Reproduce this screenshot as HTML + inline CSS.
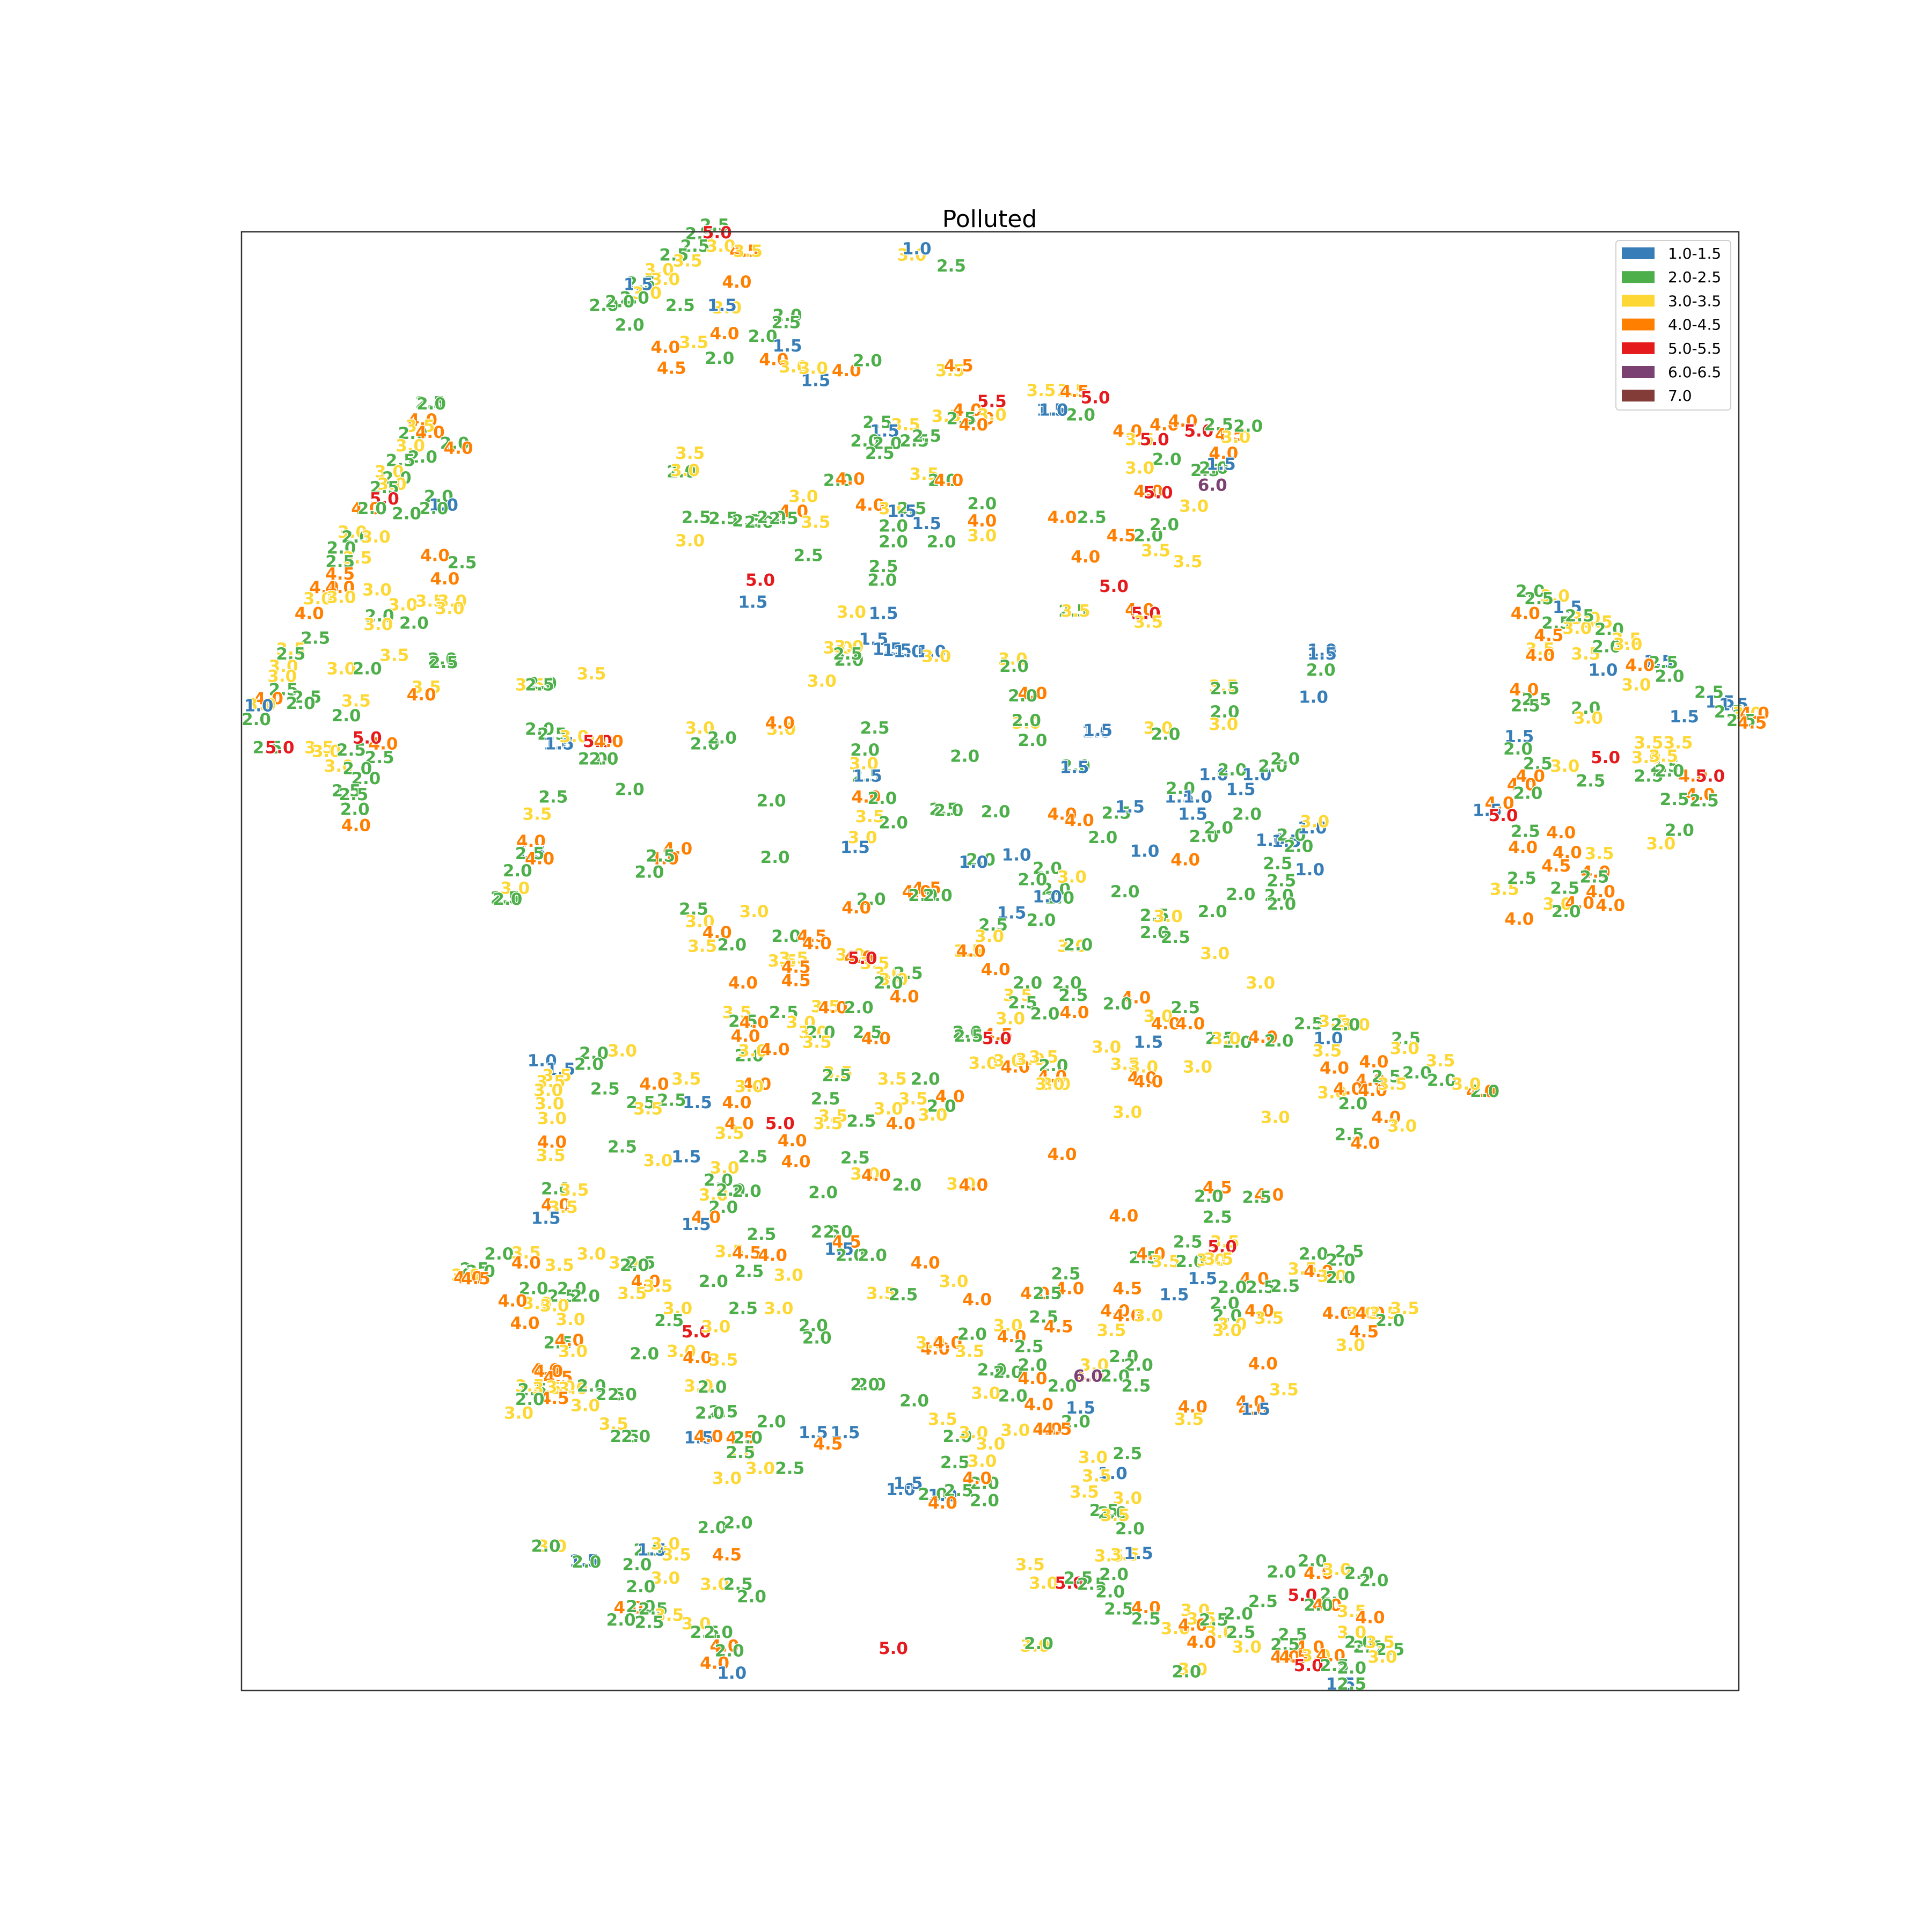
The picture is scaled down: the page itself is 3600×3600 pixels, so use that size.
<!DOCTYPE html>
<html><head><meta charset="utf-8"><style>
html,body{margin:0;padding:0;background:#fff}
svg{display:block}
.lab{font-family:"DejaVu Sans","Liberation Sans",sans-serif;font-weight:bold;font-size:31px;paint-order:stroke;stroke:#fff;stroke-width:3px;stroke-linejoin:round}
</style></head><body>
<svg id="chart" width="3600" height="3600" viewBox="0 0 3600 3600" xmlns="http://www.w3.org/2000/svg">
<rect x="0" y="0" width="3600" height="3600" fill="#fff"/>
<text x="1844" y="423" text-anchor="middle" font-family="DejaVu Sans, Liberation Sans, sans-serif" font-size="44" fill="#000">Polluted</text>
<g id="marks"></g>
<rect x="450" y="432" width="2790" height="2718" fill="none" stroke="#333" stroke-width="2.5"/>
<g id="legend"></g>
</svg>
<script>
const legendLabels=["1.0-1.5","2.0-2.5","3.0-3.5","4.0-4.5","5.0-5.5","6.0-6.5","7.0"];
const legendColors=["#377eb8","#4daf4a","#fdd835","#ff7f00","#e41a1c","#7b4173","#843c39"];
// [x, y, value] in embedding coordinates
const points=[
[580,183,"2.5"],[568,190,"2.5"],[564,200,"2.5"],[585,200,"3.0"],[604,204,"4.5"],[607,204,"3.5"],[547,207,"2.5"],[558,212,"3.5"],[535,219,"3.0"],[540,227,"3.0"],[520,230,"2.5"],[518,231,"1.5"],[525,238,"3.0"],[515,242,"2.0"],[490,248,"2.0"],[503,245,"2.0"],[598,229,"4.0"],[552,248,"2.5"],[590,250,"3.0"],[586,248,"1.5"],[639,256,"2.0"],[638,262,"2.5"],[511,264,"2.0"],[588,271,"4.0"],[563,278,"3.5"],[619,273,"2.0"],[540,282,"4.0"],[639,281,"1.5"],[584,291,"2.0"],[628,292,"4.0"],[644,298,"3.0"],[687,301,"4.0"],[704,293,"2.0"],[545,299,"4.5"],[662,309,"1.5"],[660,299,"3.0"],[582,189,"5.0"],
[740,207,"3.0"],[744,202,"1.0"],[772,216,"2.5"],[771,301,"3.5"],[778,297,"4.5"],
[805,326,"5.5"],[845,317,"3.5"],[870,317,"3.5"],[872,318,"4.5"],[889,323,"5.0"],[877,337,"2.0"],[853,333,"1.5"],[855,333,"1.0"],
[712,343,"2.5"],[735,345,"3.5"],[718,350,"1.5"],[702,358,"2.0"],[720,360,"2.0"],[742,358,"2.5"],[752,354,"2.5"],[714,368,"2.5"],[768,338,"3.5"],[785,333,"4.0"],[795,340,"4.0"],[805,337,"3.0"],[780,340,"2.5"],[790,345,"4.0"],[750,385,"3.5"],[765,390,"2.0"],[770,390,"4.0"],[680,390,"2.0"],[690,389,"4.0"],[652,403,"3.0"],[644,415,"4.0"],[706,410,"4.0"],[725,413,"3.0"],[740,413,"2.5"],[732,415,"1.5"],[752,425,"1.5"],[725,427,"2.0"],[797,409,"2.0"],[797,423,"4.0"],[797,435,"3.0"],[764,440,"2.0"],[725,440,"2.0"],
[560,368,"3.5"],[553,383,"2.0"],[556,382,"3.0"],[565,420,"2.5"],[587,421,"2.5"],[606,423,"2.5"],[616,424,"2.0"],[626,420,"2.0"],[636,421,"2.5"],[662,424,"3.5"],[560,439,"3.0"],[656,451,"2.5"],[717,460,"2.5"],[716,471,"2.0"],[617,471,"5.0"],[611,489,"1.5"],
[915,350,"4.0"],[925,357,"3.5"],[937,357,"5.0"],[945,345,"4.0"],[960,342,"4.0"],[973,350,"5.0"],[989,345,"2.5"],[998,353,"4.5"],[1003,355,"3.0"],[1013,346,"2.0"],[993,368,"4.0"],[947,373,"2.0"],[925,380,"3.0"],[978,382,"2.5"],[985,380,"2.0"],[991,377,"1.5"],[932,399,"4.0"],[940,400,"5.0"],[984,394,"6.0"],[969,411,"3.0"],[862,420,"4.0"],[886,420,"2.5"],[910,435,"4.5"],[932,435,"2.0"],[945,426,"2.0"],[938,447,"3.5"],[964,456,"3.5"],[881,452,"4.0"],[904,476,"5.0"],[871,496,"2.5"],[873,496,"3.5"],[925,495,"4.0"],[930,498,"5.0"],[932,505,"3.5"],
[691,497,"3.0"],[717,498,"1.5"],[709,519,"1.5"],[680,526,"3.0"],[689,525,"3.0"],[689,536,"2.0"],[688,531,"2.5"],[720,527,"1.5"],[728,528,"1.5"],[737,529,"1.0"],[756,529,"1.0"],[760,533,"3.0"],[667,553,"3.0"],
[822,535,"3.0"],[823,541,"2.0"],[838,563,"4.0"],[830,565,"2.0"],[833,587,"3.0"],[833,585,"2.0"],[838,601,"2.0"],[890,594,"1.0"],[891,593,"1.5"],[940,591,"3.0"],[946,596,"2.0"],[993,557,"3.5"],[994,559,"2.5"],[994,578,"2.0"],[993,588,"3.0"],
[1073,528,"1.0"],[1073,531,"1.5"],[1072,544,"2.0"],[1066,566,"1.0"],
[349,327,"2.5"],[350,328,"2.0"],[343,341,"4.0"],[341,346,"3.5"],[335,352,"2.0"],[349,351,"4.0"],[369,360,"2.0"],[372,364,"4.0"],[333,362,"3.0"],[343,371,"2.0"],[325,374,"2.5"],[316,383,"3.0"],[322,388,"2.0"],[318,393,"3.0"],[312,396,"2.5"],[312,405,"5.0"],[356,403,"2.0"],[360,410,"1.0"],[352,413,"2.0"],[330,417,"2.0"],[297,413,"4.0"],[302,413,"2.0"],[286,432,"3.0"],[289,436,"2.0"],[305,436,"3.0"],[277,445,"2.0"],[290,453,"3.5"],[276,456,"2.5"],[276,466,"4.5"],[263,477,"4.0"],[276,477,"4.0"],[258,486,"3.0"],[277,485,"3.0"],[251,498,"4.0"],[306,479,"3.0"],[353,451,"4.0"],[361,470,"4.0"],[375,457,"2.5"],[327,491,"3.0"],[349,488,"3.5"],[367,488,"3.0"],[365,494,"3.0"],[308,500,"2.0"],[336,506,"2.0"],[307,507,"3.0"],[256,518,"2.5"],[236,527,"3.5"],[236,531,"2.5"],[230,541,"3.0"],[277,543,"3.0"],[298,543,"2.0"],[320,532,"3.5"],[359,535,"2.0"],[360,538,"2.5"],[229,549,"3.0"],[230,560,"2.5"],[249,566,"2.5"],[244,571,"2.0"],[218,567,"4.0"],[212,572,"3.0"],[210,573,"1.0"],[208,584,"2.0"],[289,569,"3.5"],[281,581,"2.0"],[346,558,"3.5"],[342,564,"4.0"],[217,607,"2.5"],[227,607,"5.0"],[259,607,"3.5"],[265,610,"3.0"],[285,609,"2.5"],[311,604,"4.0"],[298,599,"5.0"],[308,615,"2.5"],[275,622,"3.0"],[290,624,"2.0"],[297,632,"2.0"],[281,642,"2.5"],[287,645,"2.5"],[288,657,"2.0"],[289,670,"4.0"],
[430,556,"3.5"],[440,555,"2.0"],[438,556,"2.5"],[480,547,"3.5"],[438,592,"2.0"],[448,596,"2.5"],[453,604,"1.0"],[454,604,"1.5"],[466,598,"3.0"],[486,602,"3.0"],[485,602,"5.0"],[494,602,"4.0"],[481,616,"2.0"],[490,616,"2.0"],[511,641,"2.0"],[449,647,"2.5"],[436,661,"3.5"],[431,683,"4.0"],[431,692,"1.5"],[430,693,"2.5"],[438,697,"4.0"],[420,707,"2.0"],[418,721,"3.0"],[410,729,"2.5"],[412,730,"2.0"],
[568,591,"3.0"],[572,604,"2.0"],[586,599,"2.0"],[634,592,"3.0"],[633,587,"4.0"],[710,591,"2.5"],[702,609,"2.0"],[701,620,"3.0"],[703,630,"2.5"],[704,630,"1.5"],[626,650,"2.0"],[703,647,"4.0"],[716,648,"2.0"],[706,663,"3.5"],[725,668,"2.0"],[700,680,"3.0"],[694,688,"1.5"],[550,689,"4.0"],[539,697,"4.0"],[536,695,"2.5"],[527,708,"2.0"],[629,696,"2.0"],[783,614,"2.0"],[873,622,"2.0"],[872,623,"1.5"],[766,657,"2.5"],[808,659,"2.0"],[770,658,"2.0"],[862,661,"4.0"],[876,666,"4.0"],[906,660,"2.5"],[917,655,"1.5"],[895,680,"2.0"],[929,691,"1.0"],[796,698,"2.0"],[825,694,"1.0"],[790,700,"1.0"],
[957,647,"1.5"],[958,640,"2.0"],[972,647,"1.0"],[985,629,"1.0"],[1000,625,"2.0"],[1007,641,"1.5"],[1020,629,"1.0"],[1033,622,"2.0"],[1043,616,"2.0"],[968,661,"1.5"],[1012,661,"2.0"],[977,679,"2.0"],[989,672,"2.0"],[962,698,"4.0"],[1031,682,"1.0"],[1044,683,"1.5"],[1048,678,"2.0"],[1065,672,"1.0"],[1067,667,"3.0"],[1054,687,"2.0"],[1037,701,"2.5"],[1063,706,"1.0"],[1040,715,"2.5"],[1007,726,"2.0"],[1038,727,"2.0"],[1040,734,"2.0"],[984,740,"2.0"],[913,724,"2.0"],[937,743,"2.5"],[937,757,"2.0"],[948,744,"3.0"],[954,761,"2.5"],[986,774,"3.0"],
[850,705,"2.0"],[857,722,"2.0"],[860,729,"2.0"],[850,728,"1.0"],[870,712,"3.0"],[838,714,"2.0"],[821,741,"1.5"],[845,747,"2.0"],[806,751,"2.5"],[803,760,"3.0"],[752,721,"4.5"],[744,724,"4.0"],[749,727,"2.0"],[761,727,"2.0"],[707,730,"2.0"],[695,737,"4.0"],[870,768,"3.0"],[875,767,"2.0"],[612,740,"3.0"],[563,738,"2.5"],[568,748,"3.0"],[582,757,"4.0"],[570,768,"3.5"],[594,767,"2.0"],[638,760,"2.0"],[659,760,"4.5"],[663,766,"4.0"],[635,780,"3.5"],[644,778,"3.5"],[646,785,"4.5"],[646,796,"4.5"],[690,775,"3.0"],[697,777,"4.0"],[710,782,"3.5"],[700,778,"5.0"],[721,790,"3.0"],[737,790,"2.5"],[725,795,"3.0"],[721,798,"2.0"],[786,772,"3.5"],[788,772,"4.0"],[808,787,"4.0"],[603,798,"4.0"],[734,809,"4.0"],
[598,822,"3.5"],[603,829,"2.5"],[612,830,"4.0"],[636,822,"2.5"],[650,830,"3.0"],[670,817,"3.5"],[676,818,"4.0"],[697,818,"2.0"],[660,838,"3.0"],[666,838,"2.0"],[663,846,"3.5"],[704,838,"2.5"],[711,843,"4.0"],[605,841,"4.0"],[608,857,"2.0"],[611,853,"3.0"],[629,852,"4.0"],[785,838,"2.0"],[786,841,"2.5"],[810,840,"4.5"],[809,843,"5.0"],[826,808,"3.5"],[830,814,"2.5"],[834,798,"2.0"],[866,798,"2.0"],[871,808,"2.5"],[820,827,"3.0"],[848,823,"2.0"],[872,822,"4.0"],[922,810,"4.0"],[907,815,"2.0"],[940,825,"3.0"],[946,831,"4.0"],[966,831,"4.0"],[962,818,"2.5"],[990,843,"2.5"],[1004,846,"2.0"],[995,843,"3.0"],[1025,842,"4.0"],[1038,845,"2.0"],[932,846,"1.5"],[1023,798,"3.0"],[1062,831,"2.5"],[1082,829,"3.5"],[1100,832,"3.0"],[1092,832,"2.0"],[1078,843,"1.0"],[1141,843,"2.5"],[1077,853,"3.5"],[1083,867,"4.0"],[1115,862,"4.0"],[798,863,"3.0"],[818,861,"3.0"],[824,866,"4.0"],[836,860,"3.0"],[847,858,"3.5"],[855,865,"2.0"],[898,850,"3.0"],[913,864,"3.5"],[928,866,"3.0"],[972,866,"3.0"],[854,874,"4.0"],[857,880,"3.0"],[852,880,"3.0"],[927,875,"4.0"],[932,878,"4.0"],[1169,861,"3.5"],[1140,851,"3.0"],[1112,877,"4.0"],[1125,874,"2.5"],[1150,871,"2.0"],[1170,877,"2.0"],[1202,886,"4.0"],[1205,886,"2.0"],[1081,887,"3.0"],[1094,884,"4.0"],[1098,896,"2.0"],[1114,885,"4.0"],[1130,880,"3.5"],[1190,880,"3.0"],[1125,907,"4.0"],[1138,914,"3.0"],[1095,921,"2.5"],[1108,928,"4.0"],[1035,907,"3.0"],[915,903,"3.0"],
[440,861,"1.0"],[482,855,"2.0"],[505,853,"3.0"],[455,868,"1.5"],[478,864,"2.0"],[452,873,"3.5"],[447,878,"3.5"],[445,885,"3.0"],[446,896,"3.0"],[448,908,"3.0"],[491,884,"2.5"],[531,880,"4.0"],[557,876,"3.5"],[520,895,"2.5"],[545,893,"2.5"],[566,895,"1.5"],[526,900,"3.5"],[598,895,"4.0"],[614,880,"4.0"],[608,882,"3.0"],[680,871,"3.5"],[679,873,"2.5"],[724,876,"3.5"],[751,876,"2.0"],[741,892,"3.5"],[771,890,"4.0"],[721,900,"3.0"],[764,898,"2.0"],[757,905,"3.0"],[731,912,"4.0"],[670,892,"2.5"],[676,906,"3.5"],[672,912,"3.5"],[699,910,"2.5"],[600,912,"4.0"],[633,912,"5.0"],[643,926,"4.0"],[592,920,"3.5"],[448,927,"4.0"],[447,938,"3.5"],[505,931,"2.5"],[534,942,"3.0"],[557,939,"1.5"],[611,939,"2.5"],[588,948,"3.0"],[646,943,"4.0"],[694,940,"2.5"],[702,953,"3.0"],[711,954,"4.0"],[862,937,"4.0"],[583,958,"2.0"],[579,970,"3.0"],[593,966,"2.0"],[606,967,"2.0"],[668,968,"2.0"],[736,962,"2.0"],[780,961,"3.0"],[790,962,"4.0"],[451,965,"2.0"],[466,966,"3.5"],[451,978,"4.0"],[457,980,"3.5"],[443,989,"1.5"],[587,980,"2.0"],[573,988,"4.0"],[565,994,"1.5"],[988,964,"4.5"],[1030,970,"4.0"],[1020,972,"2.5"],[981,971,"2.0"],[988,988,"2.5"],[912,987,"4.0"],
[618,1002,"2.5"],[670,1000,"2.5"],[680,1000,"2.0"],[687,1008,"4.5"],[681,1014,"1.5"],[690,1019,"2.0"],[708,1019,"2.0"],[592,1016,"3.5"],[606,1017,"4.5"],[627,1019,"4.0"],[608,1032,"2.5"],[640,1035,"3.0"],[751,1025,"4.0"],[964,1008,"2.5"],[994,1008,"3.5"],[992,1012,"5.0"],[928,1021,"2.5"],[934,1018,"4.0"],[946,1024,"3.5"],[966,1024,"2.0"],[983,1023,"3.0"],[989,1022,"3.5"],[1066,1018,"2.0"],[1095,1016,"2.5"],[1088,1023,"2.0"],[1057,1030,"3.5"],[1070,1032,"4.0"],[976,1038,"1.5"],[1018,1038,"4.0"],[1000,1045,"2.0"],[1023,1045,"2.5"],[1043,1044,"2.5"],[1081,1036,"3.0"],[1088,1037,"2.0"],[865,1034,"2.5"],[868,1046,"4.0"],[840,1050,"4.0"],[850,1050,"2.5"],[915,1046,"4.5"],[953,1051,"1.5"],
[405,1018,"2.0"],[427,1017,"3.5"],[427,1025,"4.0"],[454,1027,"3.5"],[480,1018,"3.0"],[506,1025,"3.0"],[520,1025,"2.5"],[515,1027,"2.0"],[385,1030,"2.5"],[390,1032,"2.0"],[378,1035,"3.0"],[380,1037,"4.0"],[386,1038,"4.5"],[524,1040,"4.0"],[433,1046,"2.0"],[464,1046,"2.0"],[456,1052,"2.5"],[475,1052,"2.0"],[436,1058,"3.0"],[450,1060,"3.0"],[416,1056,"4.0"],[513,1050,"3.5"],[534,1044,"3.5"],[579,1040,"2.0"],[632,1062,"3.0"],[603,1062,"2.5"],[774,1040,"3.0"],[715,1050,"3.5"],[733,1051,"2.5"],[793,1055,"4.0"],[550,1062,"3.0"],[543,1072,"2.5"],[463,1071,"3.0"],[426,1074,"4.0"],[565,1081,"5.0"],[581,1077,"3.0"],[660,1076,"2.0"],[663,1086,"2.0"],[453,1090,"2.5"],[462,1088,"4.0"],[443,1112,"4.0"],[465,1097,"3.0"],[523,1099,"2.0"],[553,1097,"3.0"],[566,1102,"4.0"],[587,1104,"3.5"],
[905,1064,"4.0"],[915,1068,"4.0"],[932,1068,"3.0"],[994,1058,"2.0"],[996,1068,"2.0"],[1022,1064,"4.0"],[1000,1075,"3.0"],[1030,1070,"3.5"],[996,1080,"3.0"],[1085,1066,"4.0"],[1105,1066,"3.0"],[1112,1066,"4.0"],[1123,1066,"3.5"],[1140,1062,"3.5"],[1128,1072,"2.0"],[1107,1081,"4.5"],[1096,1092,"3.0"],[902,1080,"3.5"],[847,1069,"2.5"],[859,1077,"4.5"],[818,1076,"3.0"],[821,1085,"4.0"],[835,1093,"2.5"],[759,1095,"4.0"],[755,1090,"3.0"],[769,1090,"4.0"],[789,1083,"2.0"],[787,1097,"3.5"],
[1025,1107,"4.0"],[912,1101,"2.0"],[924,1108,"2.0"],[888,1108,"3.0"],[884,1117,"4.0"],[883,1117,"6.0"],[905,1117,"2.0"],[922,1125,"2.5"],[805,1112,"2.0"],[818,1114,"2.0"],[838,1108,"2.0"],[838,1119,"4.0"],[862,1125,"2.0"],[800,1131,"3.0"],[822,1133,"2.0"],[843,1140,"4.0"],[877,1143,"1.5"],[873,1154,"2.0"],[850,1160,"4.0"],[858,1160,"4.5"],[824,1161,"3.0"],[968,1142,"4.0"],[965,1152,"3.5"],[1042,1128,"3.5"],[1015,1138,"4.0"],[1017,1144,"4.0"],[1019,1144,"1.5"],
[445,1113,"4.0"],[453,1118,"4.5"],[430,1125,"3.5"],[432,1128,"2.5"],[444,1127,"3.5"],[455,1126,"3.0"],[465,1127,"3.0"],[450,1135,"4.5"],[430,1136,"2.0"],[480,1125,"2.0"],[495,1132,"2.5"],[505,1132,"2.0"],[475,1141,"3.0"],[421,1147,"3.0"],[567,1125,"3.0"],[578,1126,"2.0"],[587,1146,"2.5"],[576,1147,"2.0"],[626,1154,"2.0"],[707,1124,"2.0"],[702,1124,"2.0"],[742,1137,"2.0"],[765,1152,"3.5"],[498,1156,"3.5"],[507,1166,"2.5"],[516,1166,"2.0"],[567,1167,"1.5"],[575,1166,"4.0"],[601,1167,"4.5"],[607,1167,"2.0"],[601,1180,"3.0"],[601,1179,"2.5"],[660,1163,"1.5"],[686,1163,"1.5"],[672,1172,"4.5"],[777,1166,"2.0"],[790,1163,"3.0"],[804,1172,"3.0"],[617,1192,"3.0"],[641,1192,"2.5"],[590,1200,"3.0"],
[775,1187,"2.5"],[797,1186,"3.0"],[887,1183,"3.0"],[915,1180,"2.5"],[903,1196,"1.0"],[890,1198,"3.5"],[799,1204,"2.0"],[793,1200,"4.0"],[731,1209,"1.0"],[737,1204,"1.5"],[757,1213,"2.0"],[765,1214,"1.0"],[778,1210,"2.5"],[765,1220,"4.0"],[799,1218,"2.0"],[880,1211,"3.5"],[915,1216,"3.0"],[896,1226,"2.5"],[903,1228,"2.0"],[905,1230,"3.5"],[917,1241,"2.0"],[578,1240,"2.0"],[599,1236,"2.0"],[448,1255,"3.0"],[443,1255,"2.0"],[474,1267,"1.5"],[476,1268,"2.0"],[526,1258,"2.5"],[529,1258,"1.5"],[540,1253,"3.0"],[549,1262,"3.5"],[517,1270,"2.0"],[590,1262,"4.5"],[540,1281,"3.0"],[580,1286,"3.0"],[599,1286,"2.5"],[610,1296,"2.0"],[520,1288,"2.0"],[510,1305,"4.0"],[520,1304,"2.0"],[530,1306,"2.5"],[543,1311,"3.5"],[504,1315,"2.0"],[527,1317,"2.5"],[565,1318,"3.0"],[572,1325,"2.5"],[583,1325,"2.0"],[588,1336,"4.0"],[592,1340,"2.0"],[580,1350,"4.0"],[594,1358,"1.0"],[725,1338,"5.0"],[840,1336,"3.0"],[843,1334,"2.0"],
[836,1270,"3.5"],[847,1285,"3.0"],[868,1285,"5.0"],[875,1281,"2.5"],[886,1286,"2.5"],[904,1278,"2.0"],[900,1263,"3.5"],[913,1262,"3.5"],[924,1261,"1.5"],[901,1292,"2.0"],[908,1306,"2.5"],[930,1305,"4.0"],[930,1314,"2.5"],[954,1322,"3.0"],[970,1307,"3.0"],[975,1314,"3.5"],[968,1319,"4.0"],[985,1315,"2.5"],[990,1325,"3.0"],[1005,1310,"2.0"],[1025,1300,"2.5"],[1007,1325,"2.5"],[975,1333,"4.0"],[1012,1337,"3.0"],[968,1355,"3.0"],[963,1357,"2.0"],
[1040,1276,"2.0"],[1065,1267,"2.0"],[1070,1277,"4.0"],[1085,1274,"3.0"],[1103,1277,"2.0"],[1115,1283,"2.0"],[1057,1295,"5.0"],[1083,1294,"2.0"],[1077,1303,"4.0"],[1070,1303,"2.0"],[1097,1308,"3.5"],[1112,1313,"4.0"],[1097,1325,"3.0"],[1049,1327,"2.5"],[1063,1337,"4.0"],[1043,1335,"2.5"],[1043,1345,"4.0"],[1050,1345,"4.5"],[1068,1344,"3.0"],[1080,1344,"4.0"],[1062,1352,"5.0"],[1110,1337,"2.5"],[1103,1333,"2.0"],[1120,1333,"3.5"],[1128,1339,"2.5"],[1122,1345,"3.0"],[1083,1352,"2.5"],[1097,1354,"2.0"],[1088,1367,"1.5"],[1097,1367,"2.5"],
[1242,480,"2.0"],[1262,484,"3.0"],[1249,486,"2.5"],[1238,498,"4.0"],[1272,493,"1.5"],[1263,506,"2.5"],[1287,502,"3.0"],[1297,505,"3.5"],[1280,510,"3.0"],[1282,500,"2.5"],[1306,511,"2.0"],[1257,516,"4.5"],[1320,519,"3.5"],[1287,531,"3.5"],[1304,525,"2.0"],[1321,523,"3.0"],[1250,527,"3.5"],[1250,532,"4.0"],[1301,544,"1.0"],[1328,556,"3.0"],[1346,537,"1.5"],[1350,538,"2.5"],[1331,540,"4.0"],[1355,549,"2.0"],[1237,560,"4.0"],[1247,568,"2.5"],[1238,573,"2.5"],[1287,575,"2.0"],[1289,583,"3.0"],[1387,562,"2.5"],[1367,582,"1.5"],[1396,570,"1.5"],[1407,572,"1.5"],[1403,578,"2.5"],[1418,579,"3.0"],[1424,579,"4.0"],[1413,585,"2.5"],[1422,587,"4.5"],[1233,598,"1.5"],[1232,608,"2.0"],[1248,620,"2.5"],[1270,622,"3.0"],[1291,634,"2.5"],[1303,615,"5.0"],[1242,630,"4.0"],[1235,637,"4.0"],[1240,644,"2.0"],[1338,603,"3.5"],[1362,603,"3.5"],[1374,630,"4.0"],[1388,630,"5.0"],[1380,645,"4.0"],[1359,649,"2.5"],[1383,650,"2.5"],[1338,630,"2.5"],[1351,622,"2.5"],[1355,626,"2.0"],[1336,615,"3.0"],[1350,614,"3.5"],[1217,652,"4.0"],[1207,658,"1.5"],[1220,662,"5.0"],[1238,675,"2.5"],[1267,676,"4.0"],[1363,674,"2.0"],[1348,685,"3.0"],[1236,688,"4.0"],[1272,692,"4.0"],[1298,693,"3.5"],[1263,703,"4.5"],[1295,708,"4.0"],[1294,712,"2.5"],[1221,722,"3.5"],[1235,713,"2.5"],[1270,721,"2.5"],[1264,734,"3.0"],[1299,724,"4.0"],[1307,735,"4.0"],[1282,733,"4.0"],[1271,740,"2.0"],[1233,746,"4.0"]
];
const xDomain=[0,1568], yDomain=[0,1568];
const xRange=[0,3600], yRange=[0,3600];
function xScale(v){return xRange[0]+(v-xDomain[0])/(xDomain[1]-xDomain[0])*(xRange[1]-xRange[0]);}
function yScale(v){return yRange[0]+(v-yDomain[0])/(yDomain[1]-yDomain[0])*(yRange[1]-yRange[0]);}
function colorFor(v){const n=parseFloat(v);const i=Math.min(6,Math.floor(n)-1);return legendColors[Math.max(0,i)];}
const NS="http://www.w3.org/2000/svg";
const marks=document.getElementById('marks');
points.forEach(p=>{
  const t=document.createElementNS(NS,'text');
  t.setAttribute('class','lab');
  t.setAttribute('x',xScale(p[0]));
  t.setAttribute('y',yScale(p[1]));
  t.setAttribute('text-anchor','middle');
  t.setAttribute('dominant-baseline','central');
  t.setAttribute('fill',colorFor(p[2]));
  
  
  t.textContent=p[2];
  marks.appendChild(t);
});
const lg=document.getElementById('legend');
const box=document.createElementNS(NS,'rect');
box.setAttribute('x',3011);box.setAttribute('y',448);box.setAttribute('width',214);box.setAttribute('height',316);
box.setAttribute('rx',6);box.setAttribute('fill','#fff');box.setAttribute('fill-opacity','0.8');box.setAttribute('stroke','#d0d0d0');box.setAttribute('stroke-width','2');


lg.appendChild(box);
legendLabels.forEach((l,i)=>{
  const cy=472+i*44.2;
  const r=document.createElementNS(NS,'rect');
  r.setAttribute('x',3022);r.setAttribute('y',cy-11);r.setAttribute('width',61);r.setAttribute('height',22);r.setAttribute('fill',legendColors[i]);
  
  
  lg.appendChild(r);
  const t=document.createElementNS(NS,'text');
  t.setAttribute('x',3108);t.setAttribute('y',cy+10);t.setAttribute('font-size','28');
  t.setAttribute('font-family','DejaVu Sans, Liberation Sans, sans-serif');t.setAttribute('fill','#000');
  
  
  t.textContent=l;
  lg.appendChild(t);
});
</script>
</body></html>
